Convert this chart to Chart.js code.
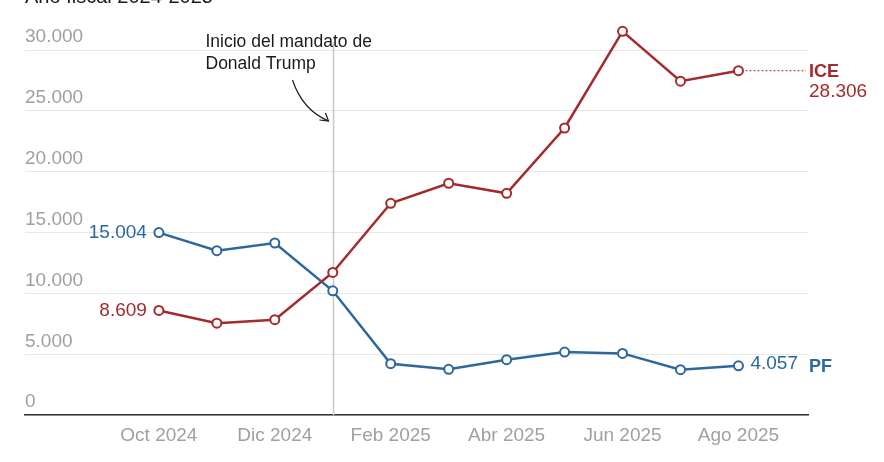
<!DOCTYPE html>
<html>
<head>
<meta charset="utf-8">
<script src="https://cdn.jsdelivr.net/npm/chart.js@4.4.1/dist/chart.umd.min.js"></script>
<style>
  html, body { margin: 0; padding: 0; background: #fff; }
  #wrap { width: 884px; height: 462px; position: relative; }
</style>
</head>
<body>
<div id="wrap"><canvas id="chart" width="884" height="462"></canvas></div>
<script>
// meses del año fiscal (oct 2024 - ago 2025)
var months = ['Oct 2024','Nov 2024','Dic 2024','Ene 2025','Feb 2025','Mar 2025','Abr 2025','May 2025','Jun 2025','Jul 2025','Ago 2025'];
var tickIdx = [0, 2, 4, 6, 8, 10];
var yTicks = [0, 5000, 10000, 15000, 20000, 25000, 30000];
var iceValues = [8609, 7560, 7850, 11730, 17410, 19060, 18230, 23600, 31540, 27450, 28306];
var pfValues = [15004, 13520, 14150, 10220, 4230, 3770, 4560, 5190, 5080, 3740, 4057];
var trumpIdx = 3;

var RED = '#a52a2d';
var BLUE = '#2c67a0';
var FONT = '"Liberation Sans", Arial, sans-serif';

function fmt(v) {
	return String(v).replace(/\B(?=(\d{3})+(?!\d))/g, '.');
}
function pts(arr) {
	return arr.map(function (v, i) { return { x: i, y: v }; });
}

var labelsPlugin = {
	id: 'labels',
	afterDatasetsDraw: function (chart) {
		var ctx = chart.ctx;
		var xs = chart.scales.x, ys = chart.scales.y;
		var last = months.length - 1;
		ctx.save();
		ctx.textBaseline = 'middle';

		// valores iniciales
		ctx.font = '19px ' + FONT;
		ctx.textAlign = 'right';
		ctx.fillStyle = BLUE;
		ctx.fillText(fmt(pfValues[0]), xs.getPixelForValue(0) - 12, ys.getPixelForValue(pfValues[0]));
		ctx.fillStyle = RED;
		ctx.fillText(fmt(iceValues[0]), xs.getPixelForValue(0) - 12, ys.getPixelForValue(iceValues[0]));

		// ICE final
		var xe = xs.getPixelForValue(last);
		var yi = ys.getPixelForValue(iceValues[last]);
		var xr = chart.chartArea.right;
		ctx.strokeStyle = RED;
		ctx.lineWidth = 1;
		ctx.setLineDash([2, 2]);
		ctx.beginPath();
		ctx.moveTo(xe + 7, yi);
		ctx.lineTo(xr - 2, yi);
		ctx.stroke();
		ctx.setLineDash([]);
		ctx.textAlign = 'left';
		ctx.fillStyle = RED;
		ctx.font = 'bold 18px ' + FONT;
		ctx.fillText('ICE', xr + 1, yi + 1);
		ctx.font = '19px ' + FONT;
		ctx.fillText(fmt(iceValues[last]), xr + 1, yi + 21);

		// PF final
		var yp = ys.getPixelForValue(pfValues[last]);
		ctx.fillStyle = BLUE;
		ctx.fillText(fmt(pfValues[last]), xe + 12, yp - 2);
		ctx.font = 'bold 18px ' + FONT;
		ctx.fillText('PF', xr + 1, yp + 1);
		ctx.restore();
	},
	beforeDatasetsDraw: function (chart) {
		var ctx = chart.ctx;
		var xs = chart.scales.x, ys = chart.scales.y;
		var xl = Math.round(xs.getPixelForValue(trumpIdx)) + 0.5;
		var yTop = ys.getPixelForValue(yTicks[yTicks.length - 1]) - 8;
		ctx.save();
		ctx.strokeStyle = '#c8c8c8';
		ctx.lineWidth = 1.5;
		ctx.beginPath();
		ctx.moveTo(xl, yTop);
		ctx.lineTo(xl, chart.chartArea.bottom);
		ctx.stroke();

		// anotación
		ctx.fillStyle = '#1a1a1a';
		ctx.font = '17.5px ' + FONT;
		ctx.textAlign = 'left';
		ctx.textBaseline = 'alphabetic';
		ctx.fillText('Inicio del mandato de', xl - 128, 47);
		ctx.fillText('Donald Trump', xl - 128, 69);
		var sx = xl - 41, sy = 80, ex = xl - 5, ey = 121;
		ctx.strokeStyle = '#1a1a1a';
		ctx.lineWidth = 1.2;
		ctx.beginPath();
		ctx.moveTo(sx, sy);
		ctx.quadraticCurveTo(sx + 10, sy + 30, ex, ey);
		ctx.stroke();
		ctx.beginPath();
		ctx.moveTo(ex - 9, ey - 1);
		ctx.lineTo(ex, ey);
		ctx.lineTo(ex - 3, ey - 8);
		ctx.stroke();

		// título (cortado arriba)
		ctx.font = '20px ' + FONT;
		ctx.fillText('Año fiscal 2024-2025', 25, 3);
		ctx.restore();
	}
};

var ctx = document.getElementById('chart').getContext('2d');
var chart = new Chart(ctx, {
	type: 'line',
	data: {
		datasets: [
			{
				label: 'ICE',
				data: pts(iceValues),
				borderColor: RED,
				backgroundColor: '#fff',
				borderWidth: 2.5,
				pointRadius: 4.5,
				pointBorderWidth: 2,
				pointBackgroundColor: '#fff',
				pointBorderColor: RED,
				tension: 0
			},
			{
				label: 'PF',
				data: pts(pfValues),
				borderColor: BLUE,
				backgroundColor: '#fff',
				borderWidth: 2.5,
				pointRadius: 4.5,
				pointBorderWidth: 2,
				pointBackgroundColor: '#fff',
				pointBorderColor: BLUE,
				tension: 0
			}
		]
	},
	options: {
		responsive: false,
		animation: false,
		events: [],
		layout: { padding: { left: 25, right: 76, top: 0, bottom: 6 } },
		plugins: {
			legend: { display: false },
			tooltip: { enabled: false }
		},
		scales: {
			x: {
				type: 'linear',
				min: -2.31,
				max: 11.2,
				afterBuildTicks: function (axis) {
					axis.ticks = tickIdx.map(function (v) { return { value: v }; });
				},
				grid: { display: false, drawTicks: false },
				border: { display: true, color: '#333', width: 1.5 },
				ticks: {
					autoSkip: false,
					maxRotation: 0,
					padding: 9,
					color: '#a0a0a0',
					font: { family: FONT, size: 19 },
					callback: function (v) { return months[v]; }
				}
			},
			y: {
				min: 0,
				max: 33180,
				afterBuildTicks: function (axis) {
					axis.ticks = yTicks.map(function (v) { return { value: v }; });
				},
				grid: { color: '#e6e6e6', lineWidth: 1, drawTicks: false },
				border: { display: false },
				ticks: {
					mirror: true,
					padding: 0,
					labelOffset: -13,
					color: '#a0a0a0',
					font: { family: FONT, size: 19 },
					callback: function (v) { return fmt(v); }
				}
			}
		}
	},
	plugins: [labelsPlugin]
});
</script>
</body>
</html>
